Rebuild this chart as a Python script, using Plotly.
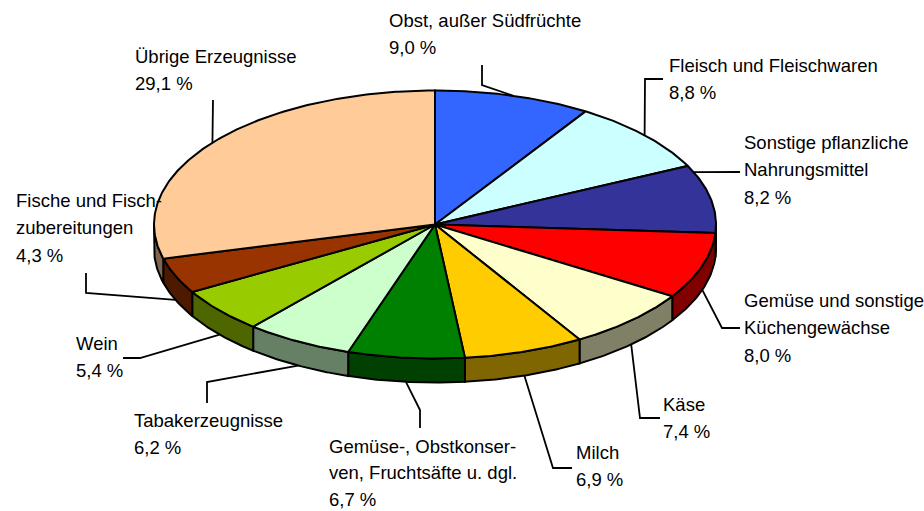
import numpy as np
import plotly.graph_objects as go

# ---------------- data ----------------
categories = [
    "Obst, außer Südfrüchte",
    "Fleisch und Fleischwaren",
    "Sonstige pflanzliche Nahrungsmittel",
    "Gemüse und sonstige Küchengewächse",
    "Käse",
    "Milch",
    "Gemüse-, Obstkonserven, Fruchtsäfte u. dgl.",
    "Tabakerzeugnisse",
    "Wein",
    "Fische und Fischzubereitungen",
    "Übrige Erzeugnisse",
]
values = [9.0, 8.8, 8.2, 8.0, 7.4, 6.9, 6.7, 6.2, 5.4, 4.3, 29.1]

# label text lines (category wrapped as in the original)
label_name_lines = [
    ["Obst, außer Südfrüchte"],
    ["Fleisch und Fleischwaren"],
    ["Sonstige pflanzliche", "Nahrungsmittel"],
    ["Gemüse und sonstige", "Küchengewächse"],
    ["Käse"],
    ["Milch"],
    ["Gemüse-, Obstkonser-", "ven, Fruchtsäfte u. dgl."],
    ["Tabakerzeugnisse"],
    ["Wein"],
    ["Fische und Fisch-", "zubereitungen"],
    ["Übrige Erzeugnisse"],
]

# ---------------- styles ----------------
top_colors = ["#3366FF", "#CCFFFF", "#333399", "#FF0000", "#FFFFCC", "#FFCC00",
              "#008000", "#CCFFCC", "#99CC00", "#993300", "#FFCC99"]
side_colors = ["#1A3380", "#668080", "#1A1A4D", "#800000", "#808066", "#806600",
               "#004000", "#668066", "#4D6600", "#4D1A00", "#806650"]

# label positions (left x, centre y of first line) and leader elbows
label_x = [387, 667, 742, 742, 661, 574, 327, 132, 74, 14, 133]
label_y = [20, 65, 142, 300, 404, 452, 446, 420, 343, 200, 56]
line_gap = [27.5, 27.5, 27.5, 27.5, 27.5, 27.5, 26.5, 27.5, 27.5, 27.5, 27.5]
leader_start = [(482, 65), (663, 79), (740, 172), (740, 328), (660, 418), (572, 468),
                (420, 428), (207, 403), (123, 358), (86, 273), (213, 100)]
leader_elbow = [(482, 85), (645, 79), (723, 172), (722, 328), (640, 418), (553, 468),
                (420, 410), (207, 382), (140, 358), (86, 293), (213, 118)]
# position of the leader end within each slice (0 = start, 1 = end)
leader_frac = [0.5, 0.5, 0.1, 0.5, 0.5, 0.5, 0.5, 0.5, 0.5, 0.5, 0.5]

CX, CY, RX, RY, DEPTH = 435.0, 224.5, 281.0, 134.0, 24.0
FONT = dict(family="Liberation Sans, Arial, sans-serif", size=18.5, color="#000000")


def pt(t_deg):
    t = np.radians(t_deg)
    return CX + RX * np.sin(t), CY - RY * np.cos(t)


total = sum(values)
bounds = np.concatenate([[0.0], np.cumsum(values) / total * 360.0])

fig = go.Figure()

# side faces (front half only)
for i in range(len(values)):
    lo, hi = max(bounds[i], 90.0), min(bounds[i + 1], 270.0)
    if lo >= hi:
        continue
    ts = np.linspace(lo, hi, max(int((hi - lo) * 2), 2))
    xs, ys = pt(ts)
    px = np.concatenate([xs, xs[::-1], xs[:1]])
    py = np.concatenate([ys, ys[::-1] + DEPTH, ys[:1]])
    fig.add_trace(go.Scatter(x=px, y=py, mode="lines", fill="toself",
                             fillcolor=side_colors[i],
                             line=dict(color="#000000", width=2),
                             hoverinfo="skip", showlegend=False))

# top faces
for i in range(len(values)):
    t1, t2 = bounds[i], bounds[i + 1]
    ts = np.linspace(t1, t2, max(int((t2 - t1) * 2), 2))
    xs, ys = pt(ts)
    px = np.concatenate([[CX], xs, [CX]])
    py = np.concatenate([[CY], ys, [CY]])
    fig.add_trace(go.Scatter(x=px, y=py, mode="lines", fill="toself",
                             fillcolor=top_colors[i],
                             line=dict(color="#000000", width=2),
                             hoverinfo="text", text=categories[i], showlegend=False))

# leader lines and labels
annotations = []
for i in range(len(values)):
    tm = bounds[i] + (bounds[i + 1] - bounds[i]) * leader_frac[i]
    ex, ey = pt(tm)
    if np.cos(np.radians(tm)) < 0:
        ey += DEPTH
    sx, sy = leader_start[i]
    bx, by = leader_elbow[i]
    fig.add_trace(go.Scatter(x=[sx, bx, ex], y=[sy, by, ey], mode="lines",
                             line=dict(color="#000000", width=1.8),
                             hoverinfo="skip", showlegend=False))
    pct = f"{values[i]:.1f}".replace(".", ",") + " %"
    lines = label_name_lines[i] + [pct]
    for k, txt in enumerate(lines):
        annotations.append(dict(x=label_x[i], y=label_y[i] + k * line_gap[i], text=txt,
                                xref="x", yref="y", xanchor="left", yanchor="middle",
                                showarrow=False, font=FONT, align="left"))

fig.update_layout(
    width=924, height=511, autosize=False,
    margin=dict(l=0, r=0, t=0, b=0),
    paper_bgcolor="white", plot_bgcolor="white",
    xaxis=dict(range=[0, 924], visible=False, fixedrange=True),
    yaxis=dict(range=[511, 0], visible=False, fixedrange=True),
    annotations=annotations,
    showlegend=False,
)

fig.write_html(
    "out.html",
    config={"displayModeBar": False},
    post_script="document.body.style.margin='0px';document.body.style.overflow='hidden';",
)
